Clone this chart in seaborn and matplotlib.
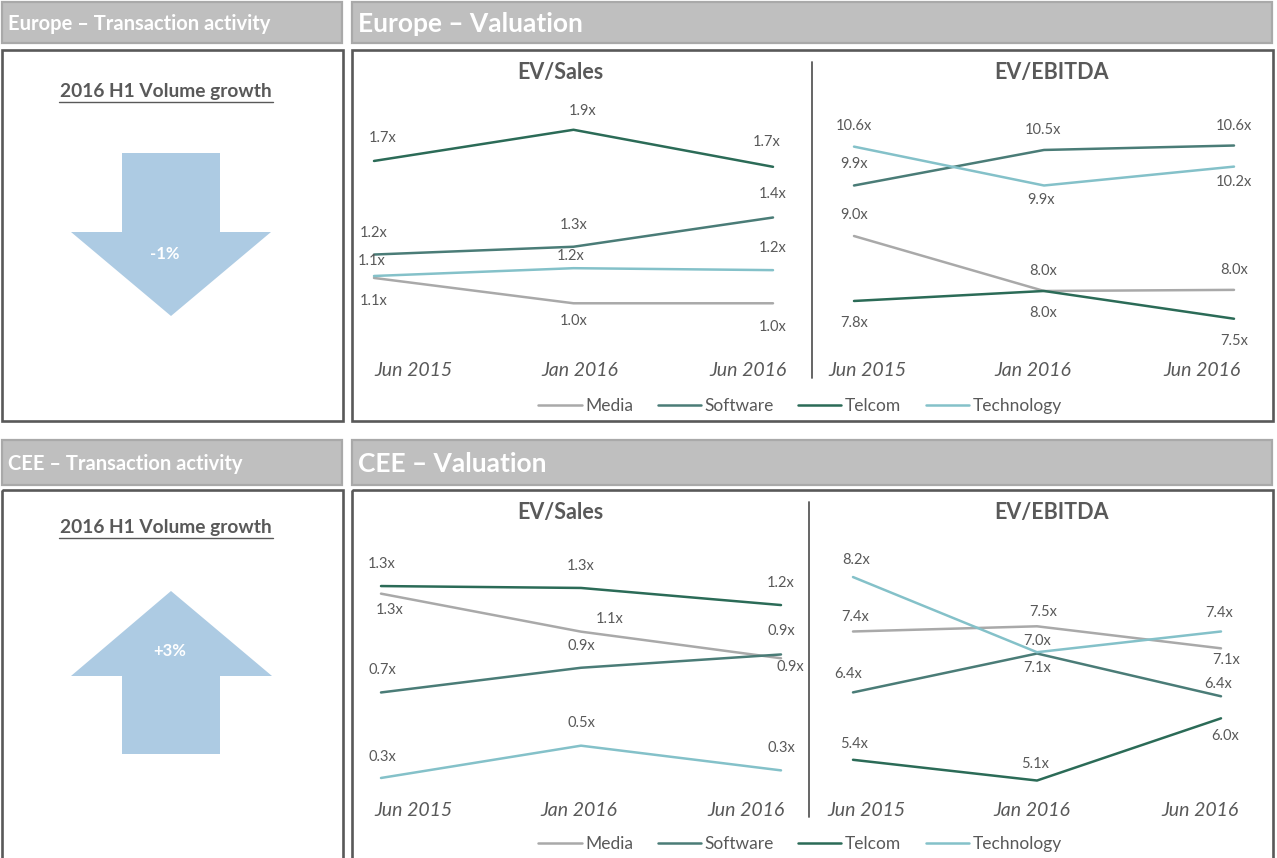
import numpy as np
import pandas as pd
import matplotlib
matplotlib.use("Agg")
import matplotlib.pyplot as plt
from matplotlib.patches import Rectangle, Polygon
from matplotlib.lines import Line2D
import seaborn as sns

# ---------------- data ----------------
periods = ["Jun 2015", "Jan 2016", "Jun 2016"]
sectors = ["Media", "Software", "Telcom", "Technology"]

eu_sales_media = [1.12, 0.99, 0.99]
eu_sales_software = [1.24, 1.28, 1.43]
eu_sales_telcom = [1.72, 1.88, 1.69]
eu_sales_tech = [1.13, 1.17, 1.16]

eu_ebitda_media = [8.99, 8.00, 8.02]
eu_ebitda_software = [9.90, 10.54, 10.62]
eu_ebitda_telcom = [7.82, 8.00, 7.50]
eu_ebitda_tech = [10.60, 9.90, 10.24]

cee_sales_media = [1.26, 1.06, 0.92]
cee_sales_software = [0.74, 0.87, 0.94]
cee_sales_telcom = [1.30, 1.29, 1.20]
cee_sales_tech = [0.29, 0.46, 0.33]

cee_ebitda_media = [7.38, 7.46, 7.12]
cee_ebitda_software = [6.44, 7.04, 6.38]
cee_ebitda_telcom = [5.40, 5.08, 6.04]
cee_ebitda_tech = [8.22, 7.06, 7.38]

eu_growth = "-1%"
cee_growth = "+3%"

# ---------------- style ----------------
colors = {"Media": "#a9a9a9", "Software": "#4a7c77", "Telcom": "#2b6b57",
          "Technology": "#84c1c9"}
TXT = "#595959"
HDR_FILL = "#bfbfbf"
HDR_EDGE = "#a9a9a9"
ARROW = "#adcbe3"

W, H = 1277, 858
sns.set_theme(style="white")
plt.rcParams["font.family"] = ["Lato", "DejaVu Sans"]

fig = plt.figure(figsize=(W / 100, H / 100), dpi=100)
canvas = fig.add_axes([0, 0, 1, 1])
canvas.set_xlim(0, W)
canvas.set_ylim(H, 0)
canvas.axis("off")


def px_rect(x0, y0, x1, y1):
    return [x0 / W, 1 - y1 / H, (x1 - x0) / W, (y1 - y0) / H]


def header(x0, y0, x1, y1, text, size):
    canvas.add_patch(Rectangle((x0, y0), x1 - x0, y1 - y0, fc=HDR_FILL,
                               ec=HDR_EDGE, lw=1.6))
    canvas.text(x0 + 6, (y0 + y1) / 2 + 1, text, color="white", fontsize=size,
                fontweight="bold", va="center", ha="left")


def box(x0, y0, x1, y1):
    canvas.add_patch(Rectangle((x0, y0), x1 - x0, y1 - y0, fc="none",
                               ec=TXT, lw=1.9))


# headers and boxes
header(2, 2, 342, 43, "Europe \u2013 Transaction activity", 14.5)
header(352, 2, 1272, 43, "Europe \u2013 Valuation", 19)
header(2, 440, 342, 485, "CEE \u2013 Transaction activity", 14.5)
header(352, 440, 1272, 485, "CEE \u2013 Valuation", 19)
box(2, 50, 343, 421)
box(352, 50, 1273, 421)
box(2, 490, 343, 880)
box(352, 490, 1273, 880)


def growth_panel(ytitle, arrow_pts, label, label_xy):
    canvas.text(166, ytitle, "2016 H1 Volume growth", color=TXT, fontsize=13.8,
                fontweight="bold", ha="center", va="center")
    canvas.plot([59, 273], [ytitle + 10, ytitle + 10], color=TXT, lw=1.0)
    canvas.add_patch(Polygon(arrow_pts, closed=True, fc=ARROW, ec="none"))
    canvas.text(label_xy[0], label_xy[1], label, color="white", fontsize=12,
                fontweight="bold", ha="center", va="center")


growth_panel(92, [(122, 153), (220, 153), (220, 232), (271, 232), (171, 316),
                  (71, 232), (122, 232)], eu_growth, (165, 254))
growth_panel(528, [(171, 591), (272, 676), (220, 676), (220, 754), (122, 754),
                   (122, 676), (71, 676)], cee_growth, (170, 651))

# divider lines and subtitles
canvas.plot([812, 812], [62, 378], color=TXT, lw=1.3)
canvas.plot([809, 809], [502, 817], color=TXT, lw=1.3)
for (x, y, t) in [(560, 73, "EV/Sales"), (1052, 73, "EV/EBITDA"),
                  (560, 513, "EV/Sales"), (1052, 513, "EV/EBITDA")]:
    canvas.text(x, y, t, color=TXT, fontsize=15.5, fontweight="bold",
                ha="center", va="center")


def panel(series, x0, x2, ytop, ybot, ylim, tick_px, offsets):
    unit = (x2 - x0) / 2.0
    left = x0 - 0.1 * unit
    right = x2 + 0.1 * unit
    ax = fig.add_axes(px_rect(left, ytop, right, ybot))
    ax.patch.set_alpha(0)
    rows = []
    for s, vals in zip(sectors, series):
        for i, (p, v) in enumerate(zip(periods, vals)):
            rows.append({"idx": i, "period": p, "sector": s, "value": v})
    df = pd.DataFrame(rows)
    sns.lineplot(data=df, x="idx", y="value", hue="sector", hue_order=sectors,
                 palette=colors, linewidth=1.8, legend=False, ax=ax)
    for s, vals, offs in zip(sectors, series, offsets):
        for i, v in enumerate(vals):
            dx, dy = offs[i]
            ax.annotate(f"{v:.1f}x", (i, v), xytext=(dx, -dy),
                        textcoords="offset pixels", ha="center", va="center",
                        fontsize=10.5, color=TXT)
    ax.set_xlim(-0.1, 2.1)
    ax.set_ylim(*ylim)
    ax.set_xticks([(p - x0) / unit for p in tick_px])
    ax.set_xticklabels(periods, fontsize=14, style="italic", color=TXT)
    ax.tick_params(axis="x", length=0, pad=12)
    ax.set_yticks([])
    ax.set_xlabel("")
    ax.set_ylabel("")
    for sp in ax.spines.values():
        sp.set_visible(False)
    return ax


panel([eu_sales_media, eu_sales_software, eu_sales_telcom, eu_sales_tech],
      374, 773, 90, 345, (0.776, 2.084), [413, 580, 748],
      [[(0, 23), (0, 18), (0, 24)],
       [(0, -22), (0, -22), (0, -23)],
       [(9, -23), (9, -19), (-6, -25)],
       [(-2, -15), (-3, -12), (0, -22)]])

panel([eu_ebitda_media, eu_ebitda_software, eu_ebitda_telcom, eu_ebitda_tech],
      854, 1234, 90, 345, (7.027, 11.62), [867, 1033, 1202],
      [[(0, -21), (-1, -20), (0, -20)],
       [(0, -21), (-1, -20), (0, -20)],
       [(0, 22), (-1, 22), (0, 22)],
       [(0, -21), (-3, 15), (0, 15)]])

panel([cee_sales_media, cee_sales_software, cee_sales_telcom, cee_sales_tech],
      381, 781, 530, 785, (0.253, 1.595), [413, 579, 746],
      [[(9, 16), (29, -13), (9, 9)],
       [(1, -22), (0, -22), (0, -23)],
       [(1, -22), (0, -22), (0, -22)],
       [(1, -21), (0, -23), (0, -22)]])

panel([cee_ebitda_media, cee_ebitda_software, cee_ebitda_telcom, cee_ebitda_tech],
      853, 1221, 530, 785, (5.011, 8.946), [866, 1032, 1200],
      [[(2, -14), (6, -14), (5, 12)],
       [(-5, -18), (0, -13), (-3, -12)],
       [(1, -16), (-2, -17), (4, 18)],
       [(3, -17), (0, 16), (-2, -18)]])

# legends
handles = [Line2D([0], [0], color=colors[s], lw=1.8) for s in sectors]
for ycen in (406, 844):
    leg = fig.legend(handles, sectors, loc="center", ncol=4, frameon=False,
                     bbox_to_anchor=(800 / W, 1 - ycen / H), fontsize=12.5,
                     handlelength=2.5, handletextpad=0.2, columnspacing=1.4,
                     labelcolor=TXT)

fig.savefig("out.png", dpi=100, facecolor="white")
